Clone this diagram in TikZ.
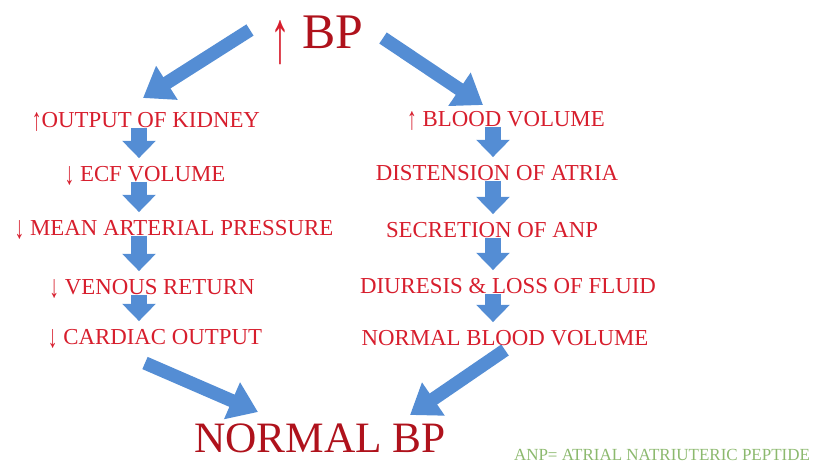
\documentclass[tikz,border=0pt]{standalone}
\usepackage{graphicx}
\usepackage{fontspec}
\setmainfont{Liberation Serif}
\usepackage{tikz}
\usetikzlibrary{arrows.meta}

\definecolor{pfeilblau}{RGB}{84,141,212}
\definecolor{textrot}{RGB}{215,30,45}
\definecolor{dunkelrot}{RGB}{175,18,28}
\definecolor{anpgruen}{RGB}{140,185,110}

% schmale, hohe Pfeilzeichen
\newcommand{\pfauf}{\raisebox{-0.12em}{\scalebox{0.85}[1.4]{↑}}}
\newcommand{\pfab}{\raisebox{-0.12em}{\scalebox{0.85}[1.4]{↓}}}

\tikzset{
  eintrag/.style={textrot, inner sep=0pt, text height=0.46cm, text depth=0pt,
    font=\fontsize{19.5}{22}\selectfont},
  grosspfeil/.style={pfeilblau, line width=0.4cm,
    -{Triangle[width=1.15cm,length=0.85cm]}},
  kleinpfeil/.style={pfeilblau, line width=0.5cm,
    -{Triangle[width=0.98cm,length=0.52cm]}, shorten >=0.24cm},
}

\begin{document}
\begin{tikzpicture}[x=0.03cm,y=-0.03cm]
\useasboundingbox (0,0) rectangle (815,466);

% Kopf
\node[dunkelrot, inner sep=0pt, anchor=base, font=\fontsize{42.5}{46}\selectfont] (bp) at (317,48)
  {\textcolor{textrot}{\raisebox{-0.3em}{\scalebox{0.8}[1.5]{↑}}} BP};

% Linke Spalte
\coordinate (linksX) at (139,0);
\node[eintrag] (kidney) at (146,120) {\pfauf OUTPUT OF KIDNEY};
\node[eintrag] (ecf) at (145,174) {\pfab{} ECF VOLUME};
\node[eintrag] (map) at (174,228) {\pfab{} MEAN ARTERIAL PRESSURE};
\node[eintrag] (venous) at (152,287) {\pfab{} VENOUS RETURN};
\node[eintrag] (cardiac) at (155,337) {\pfab{} CARDIAC OUTPUT};

% Rechte Spalte
\coordinate (rechtsX) at (493,0);
\node[eintrag] (blood) at (506,119) {\pfauf{} BLOOD VOLUME};
\node[eintrag] (atria) at (497,173) {DISTENSION OF ATRIA};
\node[eintrag] (anp) at (492,230) {SECRETION OF ANP};
\node[eintrag] (diuresis) at (508,286) {DIURESIS \& LOSS OF FLUID};
\node[eintrag] (normvol) at (505,338) {NORMAL BLOOD VOLUME};

% Ergebnis
\node[dunkelrot, inner sep=0pt, font=\fontsize{37}{40}\selectfont] (normal) at (320,438) {NORMAL BP};
\node[anpgruen, inner sep=0pt, font=\fontsize{14.5}{16}\selectfont] (legende) at (662,455) {ANP= ATRIAL NATRIUTERIC PEPTIDE};

% kleine Pfeile
\foreach \a/\b in {kidney/ecf, ecf/map, map/venous, venous/cardiac}
  \draw[kleinpfeil] (\a.south -| linksX) -- (\b.north -| linksX);
\foreach \a/\b in {blood/atria, atria/anp, anp/diuresis, diuresis/normvol}
  \draw[kleinpfeil] (\a.south -| rechtsX) -- (\b.north -| rechtsX);

% grosse Pfeile
\coordinate (bpL) at (250,30);
\coordinate (bpR) at (383,38);
\coordinate (zuKidney) at (143,98);
\coordinate (zuBlood) at (483,105);
\coordinate (vonCardiac) at (145,363);
\coordinate (vonNormvol) at (505,350);
\coordinate (zuNormalL) at (258,412);
\coordinate (zuNormalR) at (410,415);
\draw[grosspfeil] (bpL) -- (zuKidney);
\draw[grosspfeil] (bpR) -- (zuBlood);
\draw[grosspfeil] (vonCardiac) -- (zuNormalL);
\draw[grosspfeil] (vonNormvol) -- (zuNormalR);

\end{tikzpicture}
\end{document}
